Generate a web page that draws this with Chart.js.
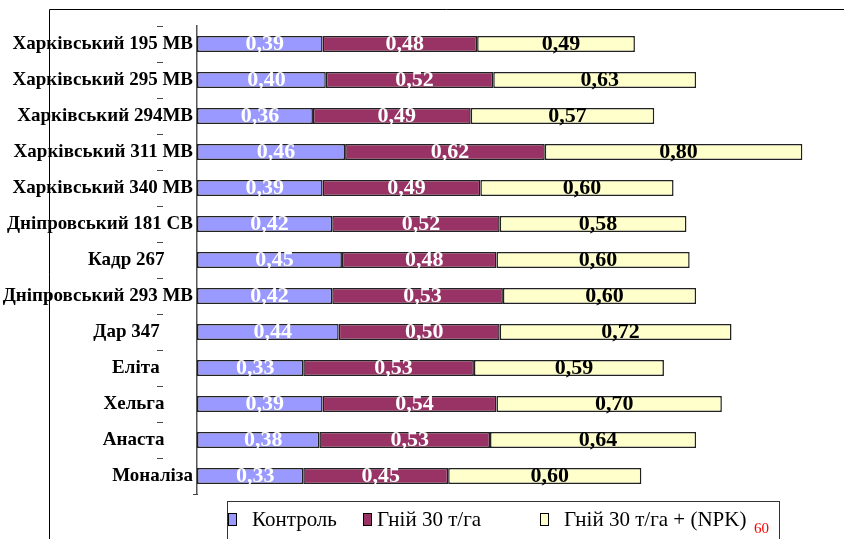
<!DOCTYPE html>
<html>
<head>
<meta charset="utf-8">
<script src="https://cdn.jsdelivr.net/npm/chart.js@4/dist/chart.umd.min.js"></script>
<style>
  html, body { margin: 0; padding: 0; background: #fff; }
  #obgortka { width: 844px; height: 539px; position: relative; }
</style>
</head>
<body>
<div id="obgortka"><canvas id="grafik"></canvas></div>
<script>
// sorty (trailing spaces keep the short names off the axis, as in the original)
const sorty = [
    "Харківський 195 МВ",
    "Харківський 295 МВ",
    "Харківський 294МВ",
    "Харківський 311 МВ",
    "Харківський 340 МВ",
    "Дніпровський 181 СВ",
    "Кадр 267      ",
    "Дніпровський 293 МВ",
    "Дар 347       ",
    "Еліта       ",
    "Хельга      ",
    "Анаста      ",
    "Моналіза"
];
const kontrol = [0.39, 0.40, 0.36, 0.46, 0.39, 0.42, 0.45, 0.42, 0.44, 0.33, 0.39, 0.38, 0.33];
const gnii = [0.48, 0.52, 0.49, 0.62, 0.49, 0.52, 0.48, 0.53, 0.50, 0.53, 0.54, 0.53, 0.45];
const gniiNpk = [0.49, 0.63, 0.57, 0.80, 0.60, 0.58, 0.60, 0.60, 0.72, 0.59, 0.70, 0.64, 0.60];
const nazvy = ["Контроль", "Гній 30 т/га", "Гній 30 т/га + (NPK)"];
const kolory = ["#9999FF", "#993366", "#FFFFCC"];
const nomerStorinky = "60";

const shryft = "'Liberation Serif', 'Times New Roman', serif";

// ramka + dribni rysky
const ramka = {
    id: "ramka",
    afterDraw(chart) {
        const ctx = chart.ctx;
        const y = chart.scales.y;
        ctx.save();
        ctx.strokeStyle = "#000";
        ctx.lineWidth = 1;
        ctx.beginPath();
        ctx.moveTo(49.5, 539);
        ctx.lineTo(49.5, 9.5);
        ctx.lineTo(844, 9.5);
        ctx.stroke();

        ctx.strokeStyle = "#444";
        const krok = (y.getPixelForValue(1) - y.getPixelForValue(0));
        ctx.beginPath();
        for (let i = 0; i < sorty.length; i++) {
            const py = Math.round(y.getPixelForValue(i) - krok / 2) + 0.5;
            ctx.moveTo(157, py);
            ctx.lineTo(163, py);
        }
        const niz = Math.round(y.getPixelForValue(sorty.length - 1) + krok / 2) + 0.5;
        ctx.moveTo(193, niz);
        ctx.lineTo(198, niz);
        ctx.stroke();
        ctx.restore();
    }
};

// pidpysy znachen
const pidpysy = {
    id: "pidpysy",
    afterDatasetsDraw(chart) {
        const ctx = chart.ctx;
        ctx.save();
        ctx.font = "bold 22px " + shryft;
        ctx.textAlign = "center";
        ctx.textBaseline = "middle";
        chart.data.datasets.forEach((ds, di) => {
            const meta = chart.getDatasetMeta(di);
            ctx.fillStyle = di === 2 ? "#000" : "#fff";
            meta.data.forEach((el, i) => {
                const tekst = ds.data[i].toFixed(2).replace(".", ",");
                ctx.fillText(tekst, (el.x + el.base) / 2 + 5, el.y);
            });
        });
        ctx.restore();
    }
};

// legenda
const legenda = {
    id: "legenda",
    afterDraw(chart) {
        const ctx = chart.ctx;
        ctx.save();
        ctx.strokeStyle = "#333";
        ctx.lineWidth = 1;
        ctx.strokeRect(227.5, 501.5, 552, 60);

        const markery = [228, 363, 540];
        const teksty = [252, 377, 564];
        ctx.font = "21px " + shryft;
        ctx.textBaseline = "middle";
        nazvy.forEach((n, i) => {
            ctx.fillStyle = kolory[i];
            ctx.fillRect(markery[i] + 0.5, 513.5, 8, 12);
            ctx.strokeStyle = "#000";
            ctx.strokeRect(markery[i] + 0.5, 513.5, 8, 12);
            ctx.fillStyle = "#000";
            ctx.fillText(n, teksty[i], 520);
        });
        ctx.font = "15px " + shryft;
        ctx.textBaseline = "alphabetic";
        ctx.fillStyle = "#ff0000";
        ctx.fillText(nomerStorinky, 754, 533);
        ctx.restore();
    }
};

const nabory = [kontrol, gnii, gniiNpk].map((d, i) => ({
    label: nazvy[i],
    data: d,
    backgroundColor: kolory[i],
    borderColor: "#222",
    borderWidth: 1.5,
    borderSkipped: false,
    categoryPercentage: 0.45,
    barPercentage: 1
}));

function pobuduvaty() {
    new Chart(document.getElementById("grafik"), {
        type: "bar",
        data: { labels: sorty, datasets: nabory },
        options: {
            indexAxis: "y",
            responsive: true,
            maintainAspectRatio: false,
            animation: false,
            layout: { padding: { top: 26, bottom: 45, left: 0, right: 3 } },
            plugins: {
                legend: { display: false },
                tooltip: { enabled: false }
            },
            scales: {
                x: { stacked: true, display: false, min: 0, max: 2.0 },
                y: {
                    stacked: true,
                    afterFit(scale) { scale.width = 197; },
                    grid: { display: true, drawOnChartArea: false, drawTicks: false },
                    border: { display: true, color: "#555", width: 1.5 },
                    ticks: {
                        color: "#000",
                        padding: 4,
                        crossAlign: "near",
                        font: { family: shryft, size: 19, weight: "bold" }
                    }
                }
            }
        },
        plugins: [ramka, pidpysy, legenda]
    });
}

Promise.all([
    document.fonts.load("bold 19px 'Liberation Serif'"),
    document.fonts.load("21px 'Liberation Serif'")
]).then(pobuduvaty, pobuduvaty);
</script>
</body>
</html>
